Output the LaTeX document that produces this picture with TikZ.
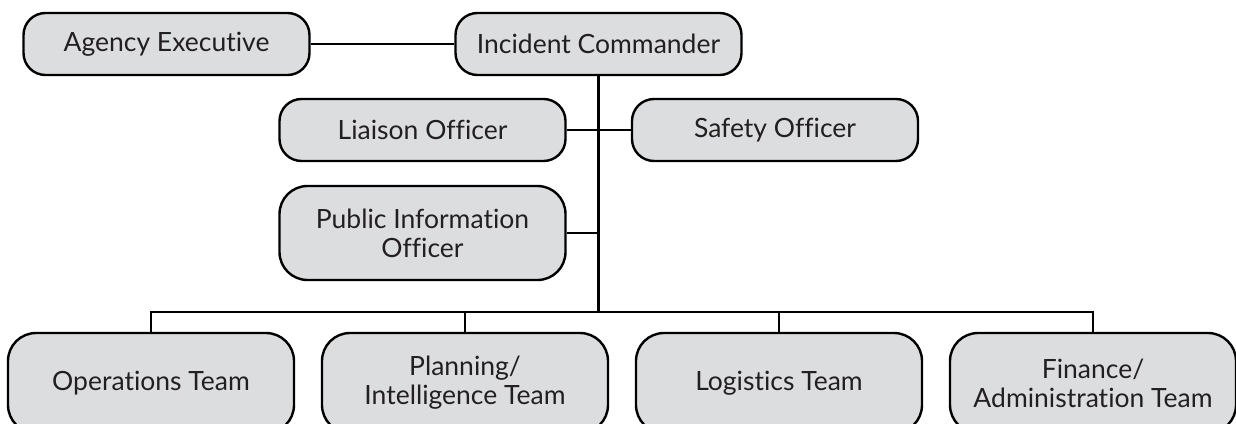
\documentclass[tikz,border=0pt]{standalone}
\usepackage{fontspec}
\setmainfont{Lato}[Ligatures={NoCommon,NoContextual}]
\definecolor{boxfill}{HTML}{DCDDDF}
\definecolor{txt}{HTML}{231F20}
\begin{document}
\begin{tikzpicture}[x=1pt,y=-1pt,
  box/.style={draw=black,line width=2.4pt,fill=boxfill,rounded corners=22pt,
    minimum width=286pt,minimum height=62pt,inner sep=0pt,align=center,
    text=txt,font=\fontsize{26.5}{29}\selectfont},
  tallbox/.style={box,minimum height=94pt,rounded corners=28pt},
  teambox/.style={box,minimum height=100pt,rounded corners=28pt},
  link/.style={draw=black,line width=2.4pt}]
\useasboundingbox (0,0) rectangle (1236,423);
\node[box] (ae) at (166.5,44) {Agency Executive};
\node[box] (ic) at (598.5,44) {Incident Commander};
\node[box] (lo) at (422.5,130) {Liaison Officer};
\node[box] (so) at (775,130) {Safety Officer};
\node[tallbox] (pio) at (422.5,233) {Public Information\\Officer};
\node[teambox] (ops) at (151,383) {Operations Team};
\node[teambox] (plan) at (465,383) {Planning/\\Intelligence Team};
\node[teambox] (log) at (779,383) {Logistics Team};
\node[teambox] (fin) at (1093,383) {Finance/\\Administration Team};
\coordinate (bus) at (598.5,312);
\path[link] (ae.east) -- (ic.west);
\path[link] (ic.south) -- (bus);
\path[link] (lo.east) -- (so.west);
\path[link] (pio.east) -- (pio.east -| bus);
\path[link] (bus) -| (ops.north);
\path[link] (bus) -| (fin.north);
\path[link] (plan.north) -- (plan.north |- bus);
\path[link] (log.north) -- (log.north |- bus);
\end{tikzpicture}
\end{document}
